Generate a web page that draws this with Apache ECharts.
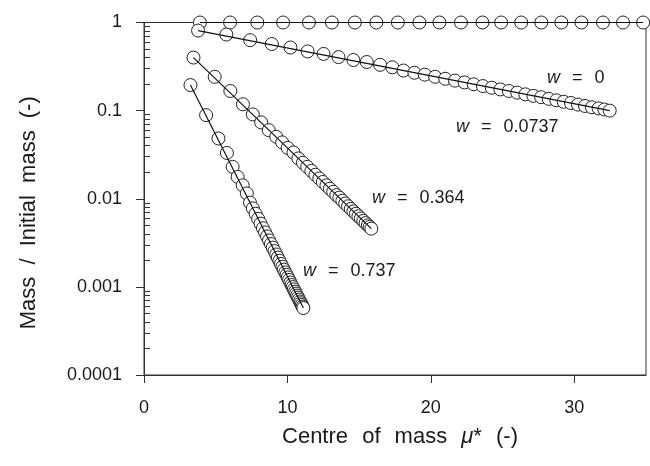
<!DOCTYPE html>
<html><head><meta charset="utf-8">
<script src="https://cdn.jsdelivr.net/npm/echarts@6/dist/echarts.min.js"></script>
<style>html,body{margin:0;padding:0;background:#fff}#c{width:650px;height:466px}</style>
</head><body><div id="c"></div>
<script>
// ---- data ----
const xTicks = [0, 10, 20, 30];
const yTicks = [0.0001, 0.001, 0.01, 0.1, 1];
const yTickLabels = ['0.0001', '0.001', '0.01', '0.1', '1'];
const yMinorTicks = [0.0002,0.0003,0.0004,0.0005,0.0006,0.0007,0.0008,0.0009,
  0.002,0.003,0.004,0.005,0.006,0.007,0.008,0.009,
  0.02,0.03,0.04,0.05,0.06,0.07,0.08,0.09,
  0.2,0.3,0.4,0.5,0.6,0.7,0.8,0.9];
const seriesLabels = ['0', '0.0737', '0.364', '0.737'];

// w = 0
const w0X = [3.9, 6.0, 7.9, 9.7, 11.5, 13.1, 14.7, 16.2, 17.7, 19.2, 20.6, 22.1, 23.6, 24.9, 26.3, 27.7, 29.1, 30.5, 32.0, 33.4, 34.8];
const w0Y = [1,1,1,1,1,1,1,1,1,1,1,1,1,1,1,1,1,1,1,1,1];
const w0FitX = [3.9, 34.8];
const w0FitY = [1, 1];

// w = 0.0737
const w1X = [3.77, 5.74, 7.40, 8.91, 10.21, 11.41, 12.52, 13.56, 14.60, 15.53, 16.46, 17.31,
  18.09, 18.85, 19.58, 20.30, 21.00, 21.68, 22.35, 22.99, 23.63, 24.25, 24.85, 25.44, 26.02,
  26.59, 27.15, 27.69, 28.22, 28.75, 29.26, 29.77, 30.26, 30.75, 31.23, 31.70, 32.10, 32.47];
const w1Y = [0.81, 0.73, 0.63, 0.57, 0.52, 0.47, 0.44, 0.405, 0.375, 0.356, 0.331, 0.31,
  0.285, 0.269, 0.256, 0.242, 0.230, 0.219, 0.209, 0.199, 0.190, 0.182, 0.174, 0.167, 0.160,
  0.153, 0.147, 0.142, 0.136, 0.131, 0.126, 0.122, 0.117, 0.113, 0.109, 0.106, 0.103, 0.100];
const w1FitX = [3.77, 32.47];
const w1FitY = [0.81, 0.100];

// w = 0.364
const w2X = [3.45, 4.93, 6.02, 6.90, 7.59, 8.17, 8.70, 9.22, 9.63, 10.02, 10.42,
  10.76, 11.08, 11.38, 11.67, 11.95, 12.22, 12.47, 12.72, 12.96, 13.19, 13.41, 13.62, 13.83,
  14.03, 14.23, 14.42, 14.60, 14.78, 14.95, 15.12, 15.29, 15.45, 15.61, 15.73, 15.85];
const w2Y = [0.40, 0.242, 0.167, 0.118, 0.0906, 0.0735, 0.060, 0.0505, 0.0436, 0.0378, 0.0335,
  0.0287, 0.0256, 0.0230, 0.0207, 0.0187, 0.0170, 0.0155, 0.0142, 0.0130, 0.0120, 0.0110, 0.0103, 0.0095,
  0.00883, 0.00822, 0.00767, 0.00719, 0.00675, 0.00634, 0.00597, 0.00561, 0.00530, 0.00500, 0.00479, 0.00458];
const w2FitX = [3.45, 15.85];
const w2FitY = [0.40, 0.00458];

// w = 0.737
const w3X = [3.24, 4.33, 5.19, 5.78, 6.18, 6.53, 6.88, 7.17,
  7.39, 7.59, 7.78, 7.96, 8.13, 8.29, 8.44, 8.58, 8.72, 8.85, 8.98, 9.10, 9.22, 9.33, 9.44,
  9.55, 9.65, 9.75, 9.85, 9.94, 10.03, 10.12, 10.21, 10.29, 10.37, 10.45, 10.53, 10.60, 10.67,
  10.74, 10.81, 10.88, 10.94, 11.00, 11.06, 11.11];
const w3Y = [0.195, 0.0889, 0.0483, 0.0331, 0.0230, 0.0177, 0.0142, 0.0115,
  0.00904, 0.00778, 0.00676, 0.00592, 0.00522, 0.00463, 0.00415, 0.00374, 0.00337, 0.00306, 0.00279, 0.00255, 0.00233, 0.00215, 0.00198,
  0.00182, 0.00169, 0.00157, 0.00146, 0.00137, 0.00128, 0.00120, 0.00112, 0.00105, 0.000995, 0.000938, 0.000884, 0.000839, 0.000796,
  0.000757, 0.000718, 0.000682, 0.000652, 0.000624, 0.000597, 0.000575];
const w3FitX = [3.24, 11.11];
const w3FitY = [0.195, 0.000575];

// ---- chart ----
const FONT = "'Liberation Sans', Arial, sans-serif";
const INK = '#1a1a1a';
const pts = (xs, ys) => xs.map((x, i) => [x, ys[i]]);

const scatterStyle = {
  type: 'scatter', symbol: 'circle', symbolSize: 13, z: 2, silent: true,
  itemStyle: { color: '#ffffff', borderColor: '#222', borderWidth: 1, opacity: 1 }
};
const lineStyle = {
  type: 'line', showSymbol: false, symbol: 'none', z: 3, silent: true,
  lineStyle: { color: '#111', width: 1.2 }
};

const groups = [[w0X, w0Y, w0FitX, w0FitY], [w1X, w1Y, w1FitX, w1FitY],
  [w2X, w2Y, w2FitX, w2FitY], [w3X, w3Y, w3FitX, w3FitY]];
const series = [];
groups.forEach((g, i) => {
  series.push(Object.assign({}, scatterStyle, { name: 'w = ' + seriesLabels[i], data: pts(g[0], g[1]) }));
});
groups.forEach((g, i) => {
  series.push(Object.assign({}, lineStyle, { name: 'fit w = ' + seriesLabels[i], data: pts(g[2], g[3]) }));
});

const labelPos = [[547, 78], [456, 127], [372, 198], [303, 271]];
const rich = {
  w: { fontStyle: 'italic', fontSize: 18, fontFamily: FONT, fill: INK, color: INK },
  e: { fontSize: 18, fontFamily: FONT, padding: [0, 7, 0, 7], color: INK, fill: INK },
  n: { fontSize: 18, fontFamily: FONT, color: INK, fill: INK }
};
const graphic = seriesLabels.map((s, i) => ({
  type: 'text', x: labelPos[i][0], y: labelPos[i][1], silent: true, z: 10,
  style: { text: '{w|w}{e| = }{n|' + s + '}', rich: rich, fontSize: 18, fontFamily: FONT,
    fill: INK, verticalAlign: 'middle', align: 'left' }
}));

const TS = 22;
const titleRich = {
  s: { fontSize: TS, fontFamily: FONT, color: INK, padding: [0, 4, 0, 4] },
  i: { fontStyle: 'italic', fontSize: TS, fontFamily: FONT, color: INK }
};

const chart = echarts.init(document.getElementById('c'), null, { renderer: 'canvas' });
chart.setOption({
  animation: false,
  backgroundColor: '#fff',
  grid: { left: 144, right: 4, top: 22.5, bottom: 91, show: true, borderColor: '#333', borderWidth: 1, backgroundColor: 'transparent' },
  xAxis: {
    type: 'value', min: 0, max: 35, interval: 10,
    name: 'Centre{s| }of{s| }mass{s| }{i|μ}*{s| }(-)', nameLocation: 'middle', nameGap: 51,
    nameTextStyle: { fontSize: TS, fontFamily: FONT, color: INK, padding: [0, 0, 0, 10], rich: titleRich },
    axisLine: { show: true, onZero: false, lineStyle: { color: '#333', width: 1 } },
    axisTick: { show: true, inside: false, length: 8, customValues: xTicks, lineStyle: { color: '#333' } },
    axisLabel: { fontSize: 18, fontFamily: FONT, color: INK, margin: 24, customValues: xTicks },
    splitLine: { show: false }
  },
  yAxis: [{
    type: 'log', logBase: 10, min: 0.0001, max: 1,
    name: 'Mass{s| }/{s| }Initial{s| }mass{s| }(-)', nameLocation: 'middle', nameGap: 104, nameRotate: 90,
    nameTextStyle: { fontSize: TS, fontFamily: FONT, color: INK, padding: [0, 28, 0, 0], rich: {
      s: { fontSize: TS, fontFamily: FONT, color: INK, padding: [0, 3, 0, 3] } } },
    axisLine: { show: true, onZero: false, lineStyle: { color: '#333', width: 1 } },
    axisTick: { show: true, inside: false, length: 8, customValues: yTicks, lineStyle: { color: '#333' } },
    axisLabel: { fontSize: 18, fontFamily: FONT, color: INK, margin: 22, customValues: yTicks,
      formatter: v => yTickLabels[Math.round(Math.log10(v)) + 4] },
    splitLine: { show: false }
  }, {
    type: 'log', logBase: 10, min: 0.0001, max: 1, position: 'left',
    axisLine: { show: false },
    axisTick: { show: true, inside: true, length: 6, customValues: yMinorTicks, lineStyle: { color: '#333' } },
    axisLabel: { show: false },
    splitLine: { show: false }
  }],
  graphic: graphic,
  series: series
});
</script>
</body></html>
